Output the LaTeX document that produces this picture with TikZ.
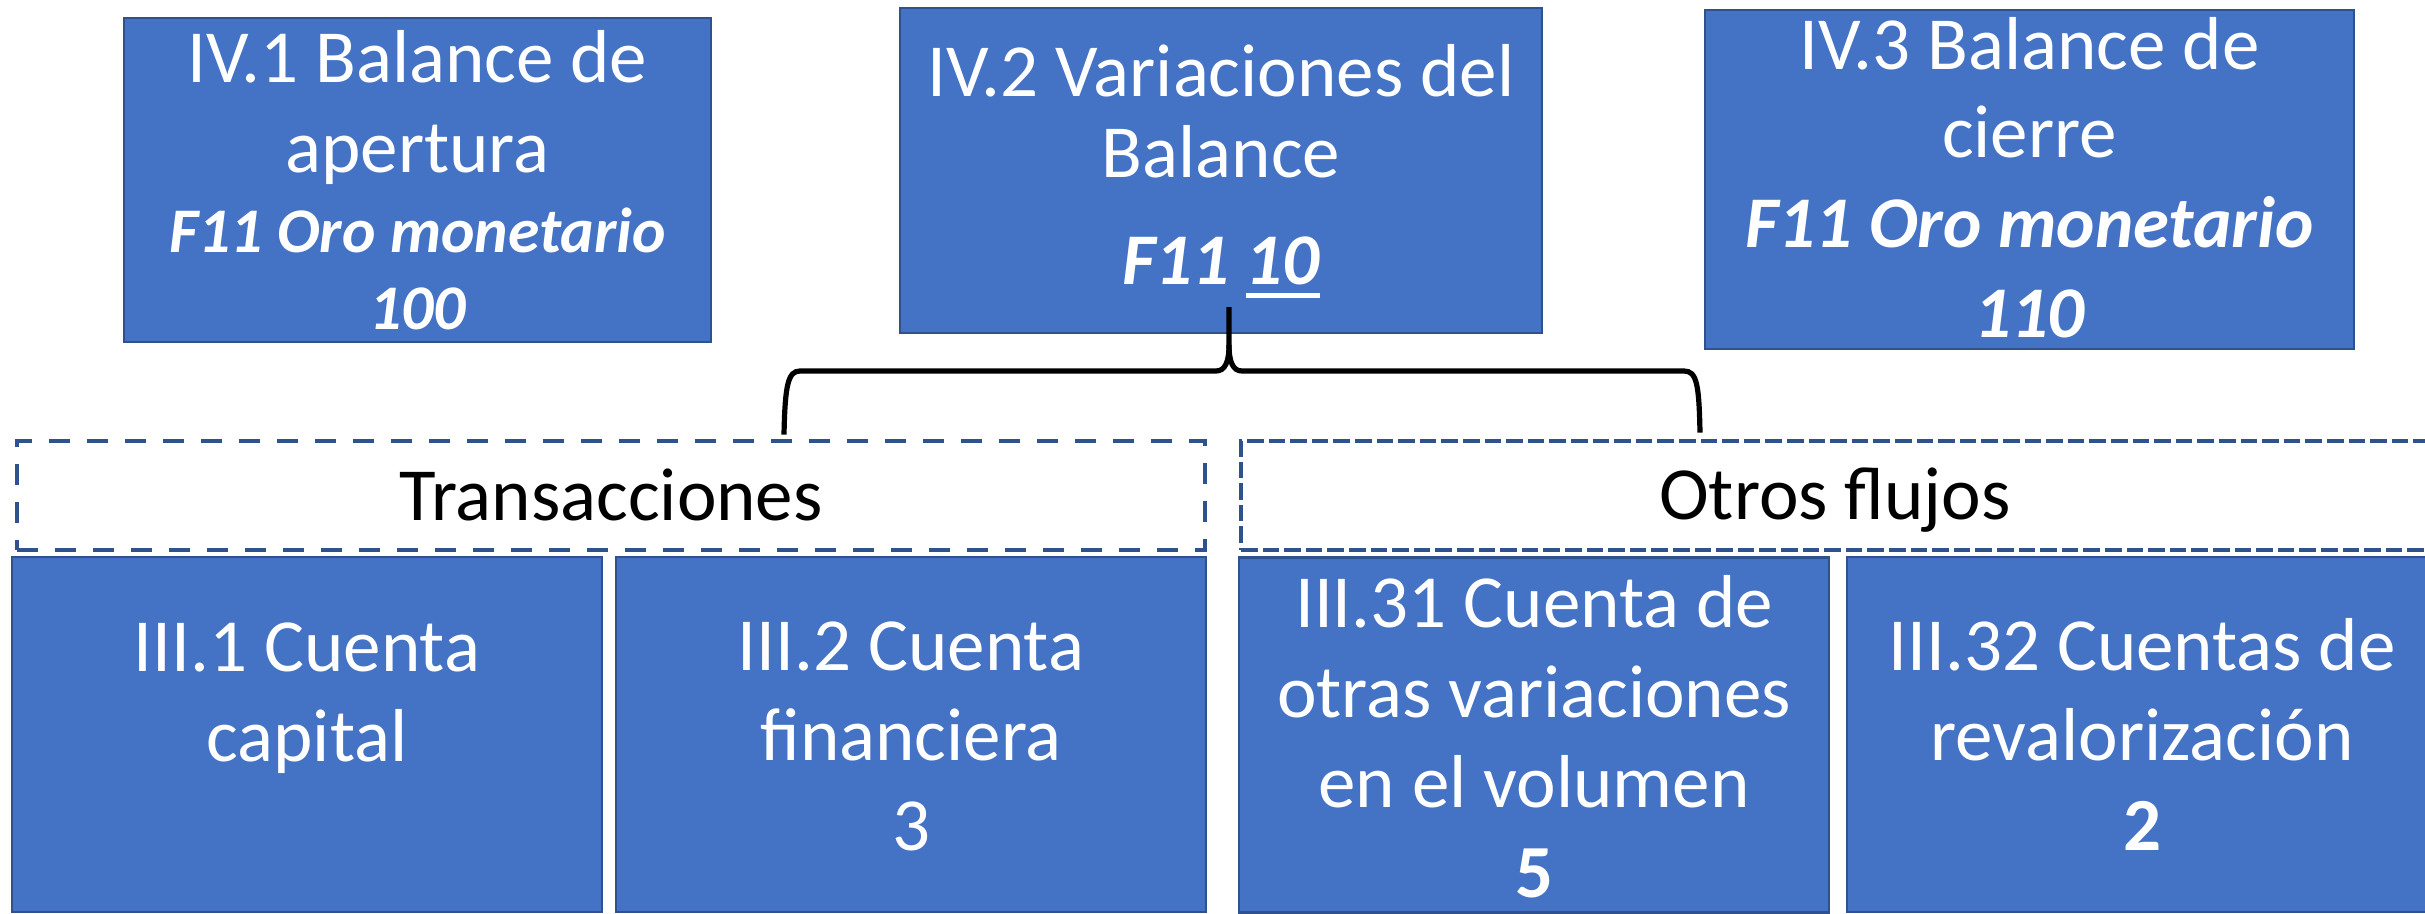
\documentclass[tikz,border=0pt]{standalone}
\usepackage{fontspec}
\setmainfont{Carlito}
\definecolor{boxblue}{HTML}{4472C4}
\definecolor{boxedge}{HTML}{2F528F}
\newcommand\ulten[1]{\setbox0\hbox{#1}\rlap{\raisebox{-6.5pt}{\rule{\wd0}{2.3pt}}}\box0}
\newcommand\topstrut{\rule{0pt}{30pt}}
\newcommand\botstrut[1]{\rule[-#1]{0pt}{#1}}
\newcommand\bisml{\fontsize{31.8}{38}\selectfont\bfseries\itshape}
\newcommand\bibig{\fontsize{36.4}{42}\selectfont\bfseries\itshape}
\tikzset{
  bluebox/.style={draw=boxedge, fill=boxblue, line width=1.2pt, text=white,
    align=center, inner sep=0pt, font=\fontsize{37.5}{45}\selectfont},
  topbox/.style={bluebox, minimum height=162.5pt},
  lowbox/.style={bluebox, minimum width=295pt, minimum height=177.5pt},
  dashbox/.style={draw=boxedge, line width=2.4pt, text=black, align=center,
    inner sep=0pt, minimum width=594pt, minimum height=54.5pt,
    font=\fontsize{37.5}{45}\selectfont},
  bracepath/.style={draw=black, line width=2.6pt}
}
\begin{document}
\begin{tikzpicture}[x=0.5pt, y=-0.5pt]
\useasboundingbox (0,0) rectangle (2425,914);
\clip (0,0) rectangle (2425,914);

% bottom boxes
\node[lowbox] (c1) at (307,734.5) {\topstrut III.1 Cuenta\\ capital\botstrut{48.5pt}};
\node[lowbox] (c2) at (911,734.5) {\topstrut III.2 Cuenta\\ financiera\\ 3\botstrut{4.5pt}};
\node[lowbox] (c31) at (1534,735) {\topstrut III.31 Cuenta de\\ otras variaciones\\ en el volumen\\ {\bfseries 5}\botstrut{2.5pt}};
\node[lowbox] (c32) at (2142,734.5) {\topstrut III.32 Cuentas de\\ revalorización\\ {\bfseries 2}\botstrut{4.5pt}};

% dashed group boxes
\node[dashbox, dash pattern=on 10.5pt off 8.5pt] (trans) at (611,495.5) {\topstrut Transacciones\botstrut{5.5pt}};
\node[dashbox, dash pattern=on 8.3pt off 2.5pt] (otros) at (1835,495.5) {\topstrut Otros flujos\botstrut{5.5pt}};

% top boxes
\node[topbox, minimum width=293.5pt, minimum height=162pt] (iv1) at (417.5,180)
  {\topstrut IV.1 Balance de\\ apertura\\[-5pt] {\bisml F11 Oro monetario}\\[-6.5pt] {\bisml 100}\botstrut{3.5pt}};
\node[topbox, minimum width=321pt] (iv2) at (1221,170.5)
  {\topstrut IV.2 Variaciones del\\[-4.5pt] Balance\\[8.5pt] {\bibig F11 \ulten{10}}\botstrut{9.5pt}};
\node[topbox, minimum width=324.5pt] (iv3) at (2029.5,179.5)
  {\topstrut IV.3 Balance de\\[-1pt] cierre\\ {\bibig F11 Oro monetario}\\ {\bibig 110}\botstrut{5.5pt}};

% brace
\coordinate (bT) at ([xshift=4pt,yshift=13.5pt]iv2.south);
\coordinate (bL) at ([xshift=86.5pt,yshift=2pt]trans.north);
\coordinate (bR) at ([xshift=-67.5pt,yshift=3pt]otros.north);
\draw[bracepath] (bL) .. controls (785,385) and (788,371) .. (800,371)
  -- (1216,371) .. controls (1225,371) and (1229,362) .. (1229,345) -- (bT);
\draw[bracepath] (bR) .. controls (1699,385) and (1697,371) .. (1684,371)
  -- (1242,371) .. controls (1233,371) and (1229,362) .. (1229,345);
\end{tikzpicture}
\end{document}
